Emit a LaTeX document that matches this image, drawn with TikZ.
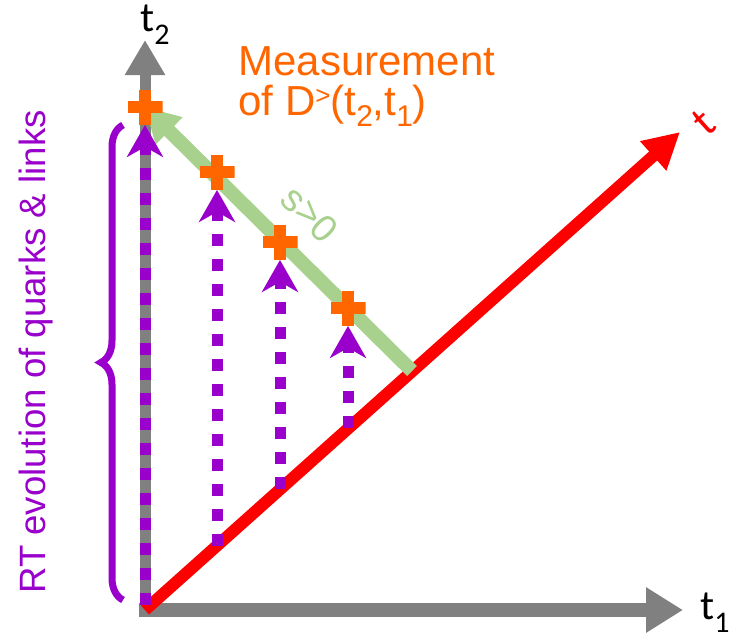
\documentclass[tikz,border=0pt]{standalone}
\usepackage{fontspec}
\setmainfont{Liberation Sans}
\newfontfamily\calib{Carlito}
\usetikzlibrary{arrows.meta,decorations.pathreplacing,backgrounds}

\definecolor{axisgray}{HTML}{808080}
\definecolor{measorange}{HTML}{FF6600}
\definecolor{rtpurple}{HTML}{9900CC}
\definecolor{sgreen}{HTML}{A9D18E}

\tikzset{
  measpt/.style={minimum size=17.5pt,inner sep=0pt,
    path picture={\draw[line width=6pt,measorange]
      (path picture bounding box.north) -- (path picture bounding box.south)
      (path picture bounding box.west) -- (path picture bounding box.east);}},
  rtline/.style={rtpurple,line width=5.5pt,dash pattern=on 6pt off 6.5pt,
    -{Stealth[length=16pt,width=18pt,inset=5pt]}}
}

\begin{document}
\begin{tikzpicture}[x=0.5pt,y=-0.5pt,>=Stealth]
            \useasboundingbox (0,0) rectangle (733,639);
            % measurement points on the s>0 line
            \node [measpt] (m0) at (145,107) {};
            \node [measpt] (m1) at (217,172) {};
            \node [measpt] (m2) at (280,242) {};
            \node [measpt] (m3) at (348,308) {};
            % points on the axes and on the t line
            \coordinate (o) at (145,610);
            \coordinate (ob) at (145,617);
            \coordinate (ol) at (139,610);
            \coordinate (t2tip) at (145,40);
            \coordinate (t1tip) at (683,610);
            \coordinate (ttip) at (680,132);
            \coordinate (g0) at (412,371);
            \coordinate (b0) at (145,605);
            \coordinate (b1) at (217,546);
            \coordinate (b2) at (280,489);
            \coordinate (b3) at (348,428);
            \begin{scope}[on background layer]
                \draw [axisgray,line width=5.5pt,-{Triangle[length=17.5pt,width=19pt]}] (ob) -- (t2tip);
                \draw [axisgray,line width=7pt,-{Triangle[length=18.5pt,width=21.5pt]}] (ol) -- (t1tip);
                \draw [red,line width=6pt,-{Triangle[length=18pt,width=18.5pt]}] (o) -- (ttip);
                \draw [sgreen,line width=7pt,-{Triangle[length=17pt,width=18pt]}] (g0) -- (m0.center);
                \draw [rtline] (b0) -- (m0.south);
                \draw [rtline] (b1) -- (m1.south);
                \draw [rtline] (b2) -- (m2.south);
                \draw [rtline] (b3) -- (m3.south);
            \end{scope}
            % brace and labels
            \coordinate (brb) at (123,600);
            \coordinate (brt) at (123,125);
            \draw [rtpurple,line width=3.5pt,decorate,decoration={brace,amplitude=11pt}] (brb) -- (brt);
            \node [rtpurple,rotate=90,font=\fontsize{18.3}{20}\selectfont] (rtlabel) at (36,352) {RT evolution of quarks \& links};
            \node [sgreen,rotate=-45,inner sep=0pt,font=\fontsize{19}{20}\selectfont] (slabel) at (310,214) {s>0};
            \node [measorange,anchor=base west,inner sep=0pt,font=\fontsize{21}{22}\selectfont] (meas) at (238,75) {Measurement};
            \node [measorange,anchor=base west,inner sep=0pt,font=\fontsize{21}{22}\selectfont] (measof) at (238,115) {of D\raisebox{0.25em}{\fontsize{13}{13}\selectfont >}(t\raisebox{-0.28em}{\fontsize{15}{15}\selectfont 2},t\raisebox{-0.28em}{\fontsize{15}{15}\selectfont 1})};
            \node [font=\calib\fontsize{21}{21}\selectfont] (t2lab) at (155,25) {t\raisebox{-0.3em}{\fontsize{15}{15}\selectfont 2}};
            \node [font=\calib\fontsize{21}{21}\selectfont] (t1lab) at (715,613) {t\raisebox{-0.3em}{\fontsize{15}{15}\selectfont 1}};
            \node [red,rotate=42,font=\calib\fontsize{22}{22}\selectfont] (tlab) at (704,122) {t};
        \end{tikzpicture}
\end{document}
